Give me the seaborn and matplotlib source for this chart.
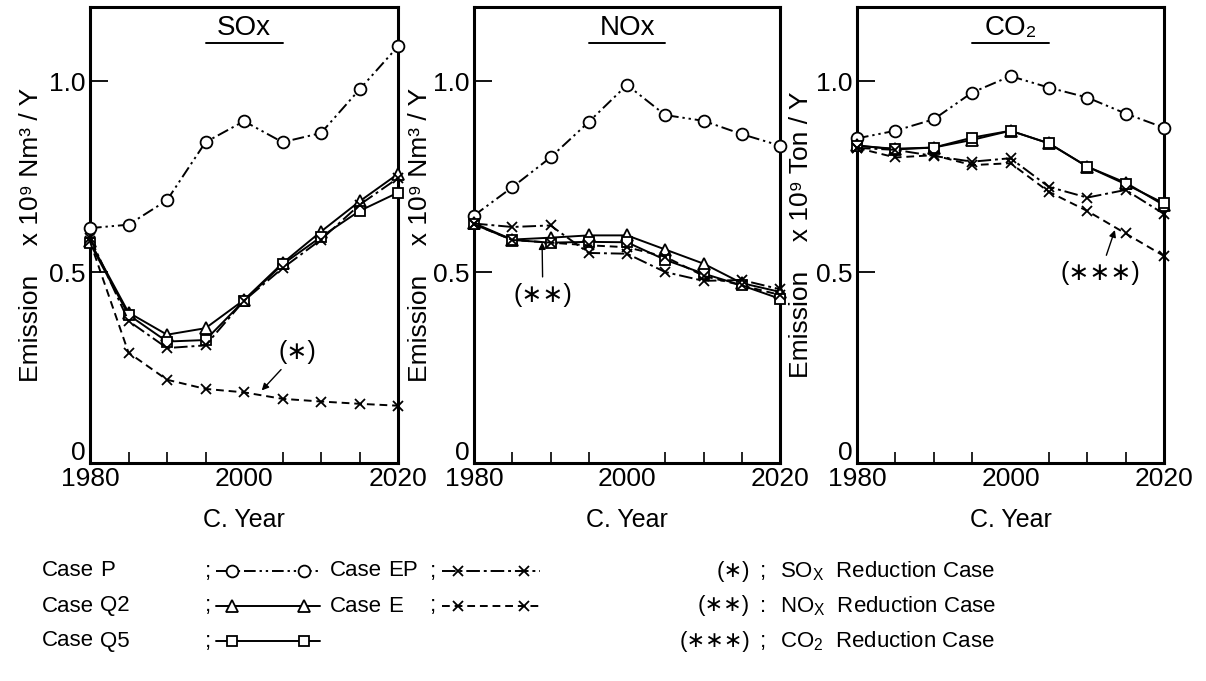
import matplotlib
matplotlib.use("Agg")
import matplotlib.pyplot as plt
from matplotlib.lines import Line2D
from matplotlib.transforms import ScaledTranslation
import seaborn as sns
import pandas as pd

# ---- data -------------------------------------------------------------
years = [1980, 1985, 1990, 1995, 2000, 2005, 2010, 2015, 2020]

sox_p  = [0.615, 0.624, 0.688, 0.840, 0.895, 0.840, 0.864, 0.978, 1.091]
sox_q2 = [0.580, 0.394, 0.336, 0.353, 0.427, 0.523, 0.606, 0.685, 0.757]
sox_q5 = [0.575, 0.388, 0.318, 0.322, 0.425, 0.520, 0.592, 0.660, 0.708]
sox_ep = [0.590, 0.372, 0.301, 0.308, 0.425, 0.510, 0.585, 0.676, 0.746]
sox_e  = [0.580, 0.289, 0.218, 0.194, 0.185, 0.168, 0.161, 0.155, 0.150]

nox_p  = [0.648, 0.722, 0.800, 0.893, 0.990, 0.911, 0.896, 0.861, 0.831]
nox_q2 = [0.628, 0.585, 0.590, 0.596, 0.596, 0.559, 0.522, 0.471, 0.448]
nox_q5 = [0.625, 0.584, 0.577, 0.579, 0.578, 0.532, 0.496, 0.465, 0.430]
nox_ep = [0.627, 0.618, 0.622, 0.550, 0.548, 0.500, 0.477, 0.479, 0.455]
nox_e  = [0.625, 0.584, 0.577, 0.570, 0.565, 0.540, 0.490, 0.465, 0.440]

co2_p  = [0.850, 0.870, 0.900, 0.970, 1.013, 0.983, 0.957, 0.915, 0.878]
co2_q2 = [0.832, 0.821, 0.826, 0.846, 0.870, 0.837, 0.776, 0.734, 0.675]
co2_q5 = [0.830, 0.823, 0.826, 0.852, 0.870, 0.837, 0.776, 0.730, 0.680]
co2_ep = [0.825, 0.820, 0.804, 0.789, 0.798, 0.723, 0.695, 0.715, 0.652]
co2_e  = [0.825, 0.800, 0.806, 0.780, 0.785, 0.710, 0.660, 0.601, 0.542]

cases = ["P", "Q2", "Q5", "EP", "E"]
panel_titles = ["SOx", "NOx", "CO\u2082"]
panel_ylabels = ["Emission    x 10\u2079 Nm\u00b3 / Y",
                 "Emission    x 10\u2079 Nm\u00b3 / Y",
                 "Emission    x 10\u2079 Ton / Y"]
panel_data = [
    [sox_p, sox_q2, sox_q5, sox_ep, sox_e],
    [nox_p, nox_q2, nox_q5, nox_ep, nox_e],
    [co2_p, co2_q2, co2_q5, co2_ep, co2_e],
]
xtick_labels = ["1980", "2000", "2020"]
ytick_labels = ["0", "0.5", "1.0"]

# ---- styles -----------------------------------------------------------
styles = {
    "P":  dict(marker="o", linestyle=(0, (6, 2, 1.2, 2, 1.2, 2)), markersize=8.5),
    "Q2": dict(marker="^", linestyle="-", markersize=8.5),
    "Q5": dict(marker="s", linestyle="-", markersize=7),
    "EP": dict(marker="x", linestyle=(0, (7, 2, 1.5, 2)), markersize=7.5),
    "E":  dict(marker="x", linestyle=(0, (4, 2.5)), markersize=7.5),
}

sns.set_style("white")
plt.rcParams["font.family"] = ["Liberation Sans", "DejaVu Sans"]
plt.rcParams["text.color"] = "black"
plt.rcParams["axes.labelcolor"] = "black"
plt.rcParams["xtick.color"] = "black"
plt.rcParams["ytick.color"] = "black"

fig = plt.figure(figsize=(12.06, 6.81), dpi=100)
W, H = 1206.0, 681.0
lefts = [90, 474, 857]
widths = [308, 306, 307]
ylabel_x = [-0.153, -0.137, -0.143]
top_px, bot_px = 7, 463

axes = []
for i in range(3):
    ax = fig.add_axes([lefts[i] / W, 1 - bot_px / H, widths[i] / W, (bot_px - top_px) / H])
    axes.append(ax)
    df = pd.DataFrame({"year": years})
    for name, vals in zip(cases, panel_data[i]):
        df[name] = vals
    for name in cases:
        st = styles[name]
        sns.lineplot(data=df, x="year", y=name, ax=ax, color="black",
                     linewidth=1.4, marker=st["marker"], linestyle=st["linestyle"],
                     markersize=st["markersize"], markerfacecolor="white",
                     markeredgecolor="black", markeredgewidth=1.3,
                     clip_on=False, zorder=3)
    ax.set_xlim(1980, 2020)
    ax.set_ylim(0, 1.194)
    ax.set_xticks([1980, 2000, 2020])
    ax.set_xticklabels(xtick_labels)
    ax.set_xticks(list(range(1985, 2020, 5)), minor=True)
    ax.set_yticks([0, 0.5, 1.0])
    ax.set_yticklabels(ytick_labels)
    ax.tick_params(axis="y", direction="in", length=13, width=1.3, labelsize=19, pad=3, left=True)
    ax.tick_params(axis="x", which="both", direction="in", length=8, width=1.2,
                   labelsize=19, pad=3, bottom=True)
    ax.tick_params(axis="x", which="major", length=0)
    # lift the "0" label so it clears the year labels
    zero_lbl = ax.get_yticklabels()[0]
    zero_lbl.set_transform(zero_lbl.get_transform() +
                           ScaledTranslation(0, 9 / 72, fig.dpi_scale_trans))
    for sp in ax.spines.values():
        sp.set_linewidth(2.2)
        sp.set_color("black")
    ax.set_xlabel("C. Year", fontsize=18, labelpad=12)
    ax.set_ylabel(panel_ylabels[i], fontsize=19)
    ax.yaxis.set_label_coords(ylabel_x[i], 0.5)
    # underlined pollutant name
    ax.text(0.5, 0.955, panel_titles[i], transform=ax.transAxes, ha="center",
            va="center", fontsize=20)
    ax.plot([0.375, 0.625], [0.921, 0.921], transform=ax.transAxes,
            color="black", linewidth=1.4)

# reduction case callouts
arrow = dict(arrowstyle="-|>", color="black", linewidth=1.0, mutation_scale=10,
             shrinkA=2, shrinkB=0)
axes[0].annotate("(\u2217)", xy=(2002.3, 0.19), xytext=(2006.9, 0.29),
                 ha="center", va="center", fontsize=18, arrowprops=arrow)
axes[1].annotate("(\u2217\u2217)", xy=(1988.9, 0.578), xytext=(1989.0, 0.44),
                 ha="center", va="center", fontsize=18, arrowprops=arrow)
axes[2].annotate("(\u2217\u2217\u2217)", xy=(2013.6, 0.61), xytext=(2011.7, 0.497),
                 ha="center", va="center", fontsize=18, arrowprops=arrow)

# ---- legend block -----------------------------------------------------
def fx(px):
    return px / W

def fy(py):
    return 1 - py / H

legend_fs = 16
rows = [571, 606, 641]

def sample(x0, x1, y, name):
    st = styles[name]
    xs = [fx(x0), fx(x0 + 16), fx(x1 - 16), fx(x1)]
    ln = Line2D(xs, [fy(y)] * 4, transform=fig.transFigure, color="black",
                linewidth=1.4, linestyle=st["linestyle"], marker=st["marker"],
                markevery=[1, 2], markersize=st["markersize"],
                markerfacecolor="white", markeredgecolor="black", markeredgewidth=1.3)
    fig.add_artist(ln)

left_block = [("P", rows[0]), ("Q2", rows[1]), ("Q5", rows[2])]
for name, y in left_block:
    fig.text(fx(42), fy(y), "Case", fontsize=legend_fs, va="center")
    fig.text(fx(100), fy(y), name, fontsize=legend_fs, va="center")
    fig.text(fx(205), fy(y), ";", fontsize=legend_fs, va="center")
    sample(216, 320, y, name)

mid_block = [("EP", rows[0]), ("E", rows[1])]
for name, y in mid_block:
    fig.text(fx(330), fy(y), "Case", fontsize=legend_fs, va="center")
    fig.text(fx(388), fy(y), name, fontsize=legend_fs, va="center")
    fig.text(fx(430), fy(y), ";", fontsize=legend_fs, va="center")
    sample(442, 540, y, name)

notes = [("(\u2217)", ";", "SO$_\\mathregular{X}$  Reduction Case"),
         ("(\u2217\u2217)", ":", "NO$_\\mathregular{X}$  Reduction Case"),
         ("(\u2217\u2217\u2217)", ";", "CO$_\\mathregular{2}$  Reduction Case")]
for (tag, sep, desc), y in zip(notes, rows):
    fig.text(fx(750), fy(y), tag, fontsize=legend_fs, va="center", ha="right")
    fig.text(fx(760), fy(y), sep, fontsize=legend_fs, va="center")
    fig.text(fx(780), fy(y), desc, fontsize=legend_fs, va="center")

fig.savefig("out.png", dpi=100, facecolor="white")
